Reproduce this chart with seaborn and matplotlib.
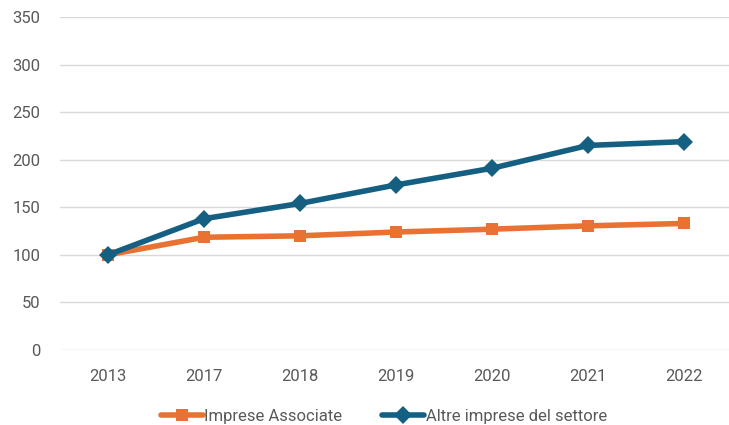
import pandas as pd
import matplotlib.pyplot as plt
import seaborn as sns

# Data
years = ["2013", "2017", "2018", "2019", "2020", "2021", "2022"]
associate = [100, 118.5, 120, 124, 127, 130.5, 133]
altre = [100, 138, 154, 173.5, 191, 215, 219]
series_names = ["Imprese Associate", "Altre imprese del settore"]

df = pd.DataFrame({
    "Anno": years * 2,
    "Valore": associate + altre,
    "Serie": [series_names[0]] * len(years) + [series_names[1]] * len(years),
})

sns.set_style("white")
plt.rcParams["font.family"] = ["Roboto", "DejaVu Sans"]

fig = plt.figure(figsize=(7.29, 4.25), dpi=100)
ax = fig.add_axes([60 / 729, 75 / 425, 672 / 729, 333 / 425])

palette = {series_names[0]: "#E97132", series_names[1]: "#156082"}
sns.lineplot(data=df, x="Anno", y="Valore", hue="Serie", style="Serie",
             markers={series_names[0]: "s", series_names[1]: "D"},
             dashes=False, palette=palette, linewidth=4, markersize=9,
             markeredgewidth=0, ax=ax, sort=False)

ax.set_xlim(-0.5, 6.5)
ax.set_ylim(0, 350)
ax.set_yticks(range(0, 351, 50))
ax.yaxis.grid(True, color="#D9D9D9", linewidth=1)
ax.set_axisbelow(True)
for s in ax.spines.values():
    s.set_visible(False)
ax.set_xlabel("")
ax.set_ylabel("")
ax.tick_params(axis="both", colors="#595959", labelsize=12, length=0)
ax.tick_params(axis="x", pad=14)
ax.tick_params(axis="y", pad=14)

handles, labels = ax.get_legend_handles_labels()
ax.legend(handles, labels, loc="center", bbox_to_anchor=(0.482, -0.2),
          ncol=2, frameon=False, fontsize=12, labelcolor="#595959",
          handlelength=2.5, handletextpad=0.1, columnspacing=2.4)

fig.savefig("out.png", dpi=100)
